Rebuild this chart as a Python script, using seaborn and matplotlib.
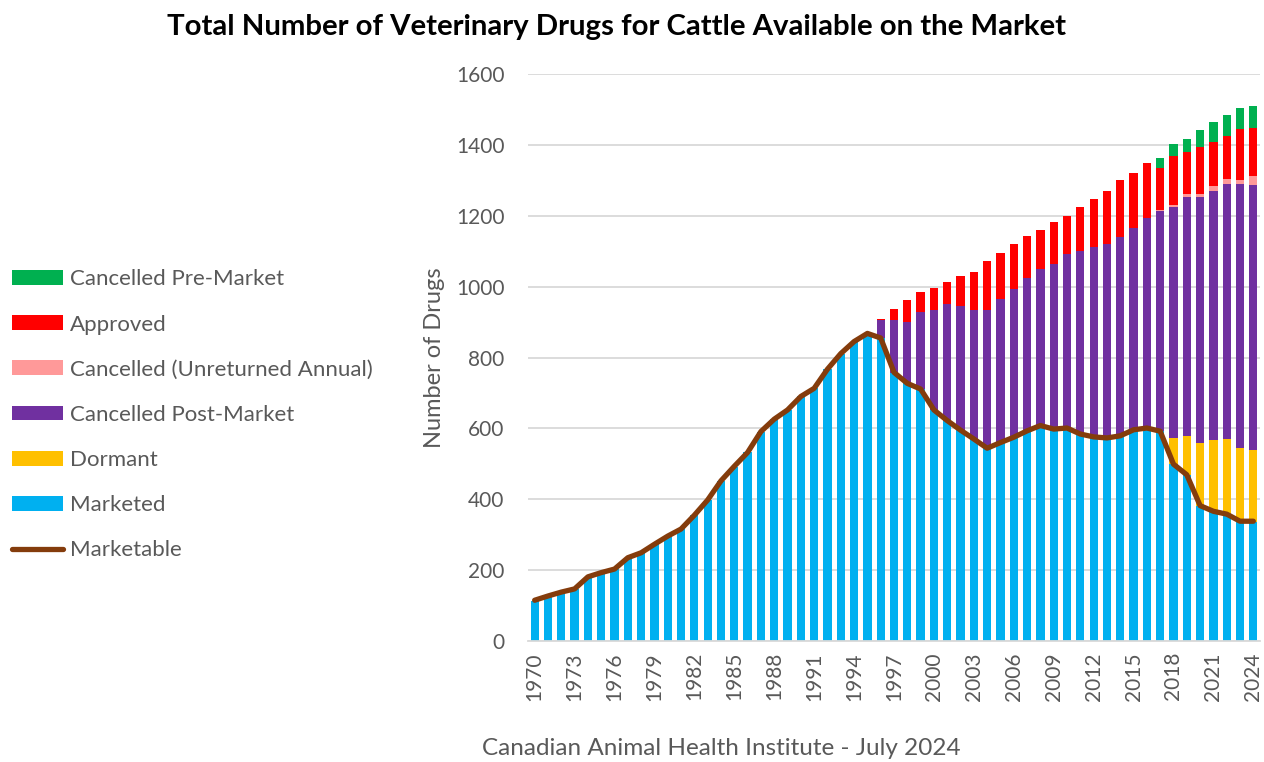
import numpy as np
import pandas as pd
import matplotlib
matplotlib.use("Agg")
import matplotlib.pyplot as plt
import seaborn as sns
from matplotlib.patches import Patch
from matplotlib.lines import Line2D

years = list(range(1970, 2025))

marketed = [113, 127, 138, 146, 181, 193, 202, 235, 249, 273, 296, 315, 355, 397, 452,
            492, 532, 591, 626, 652, 690, 713, 767, 811, 845, 868, 854, 757, 727, 711,
            652, 622, 595, 570, 544, 560, 575, 593, 608, 598, 601, 584, 576, 573, 579,
            596, 601, 592, 499, 469, 382, 366, 358, 337, 337]
dormant = [0] * 48 + [74, 110, 178, 202, 212, 207, 203]
post_market = [0] * 26 + [51, 150, 173, 218, 281, 330, 350, 365, 389, 404, 417, 431, 441,
                          467, 492, 516, 536, 548, 561, 570, 593, 621, 651, 675, 693, 701,
                          719, 745, 746]
unreturned = [0] * 47 + [2, 7, 7, 9, 15, 15, 13, 25]
approved = [0] * 26 + [5, 31, 63, 57, 64, 61, 84, 106, 138, 132, 129, 118, 112, 117, 107,
                       126, 136, 150, 160, 154, 154, 120, 137, 120, 131, 123, 120, 142, 138]
pre_market = [0] * 47 + [28, 35, 36, 49, 58, 59, 60, 62]
marketable = [115, 127, 138, 147, 181, 193, 203, 235, 249, 273, 296, 316, 355, 398, 452,
              493, 532, 591, 626, 652, 690, 713, 767, 811, 845, 868, 855, 758, 727, 711,
              652, 622, 595, 570, 544, 560, 575, 593, 608, 598, 601, 584, 576, 573, 579,
              596, 601, 592, 499, 469, 382, 366, 358, 338, 338]

series = [
    ("Marketed", marketed, "#00B0F0"),
    ("Dormant", dormant, "#FFC000"),
    ("Cancelled Post-Market", post_market, "#7030A0"),
    ("Cancelled (Unreturned Annual)", unreturned, "#FF9999"),
    ("Approved", approved, "#FF0000"),
    ("Cancelled Pre-Market", pre_market, "#00B050"),
]
line_color = "#843C0C"
text_color = "#595959"

sns.set_theme(style="white")
plt.rcParams["font.family"] = ["Lato", "DejaVu Sans"]

fig = plt.figure(figsize=(12.64, 7.62), dpi=100)
ax = fig.add_axes([528 / 1264, 1 - 641 / 762, 732 / 1264, 567 / 762])

df = pd.DataFrame({"year": [str(y) for y in years]})
cum = np.zeros(len(years))
cums = []
for name, vals, col in series:
    cum = cum + np.array(vals, dtype=float)
    cums.append((name, cum.copy(), col))

for name, c, col in reversed(cums):
    d = df.copy()
    d["v"] = c
    sns.barplot(data=d, x="year", y="v", color=col, saturation=1, width=0.62,
                linewidth=0, ax=ax, errorbar=None)

dl = pd.DataFrame({"pos": np.arange(len(years)), "v": marketable})
sns.lineplot(data=dl, x="pos", y="v", color=line_color, linewidth=3.8, ax=ax,
             solid_capstyle="round", solid_joinstyle="round")

ax.set_xlim(-0.5, len(years) - 0.5)
ax.set_ylim(0, 1600)
ax.set_yticks(range(0, 1601, 200))
ax.yaxis.grid(True, color="#D9D9D9", linewidth=1.3)
ax.set_axisbelow(True)
for s in ["top", "right", "left"]:
    ax.spines[s].set_visible(False)
ax.spines["bottom"].set_color("#D9D9D9")
ax.spines["bottom"].set_linewidth(1.3)

tick_pos = list(range(0, len(years), 3))
ax.set_xticks(tick_pos)
ax.set_xticklabels([str(years[i]) for i in tick_pos], rotation=90)
ax.tick_params(axis="both", length=0, labelsize=15, colors=text_color)
ax.tick_params(axis="y", pad=17)
ax.tick_params(axis="x", pad=8)
ax.set_xlabel("")
ax.set_ylabel("Number of Drugs", fontsize=17, color=text_color, labelpad=8)

fig.text(0.488, 0.964, "Total Number of Veterinary Drugs for Cattle Available on the Market",
         ha="center", va="center", fontsize=21.2, fontweight="bold", color="black")
fig.text(0.571, 0.004, "Canadian Animal Health Institute - July 2024",
         ha="center", va="bottom", fontsize=17.5, color=text_color)

handles = [Patch(facecolor=col, edgecolor="none", label=name)
           for name, _, col in reversed(series)]
handles.append(Line2D([0], [0], color=line_color, linewidth=3.8,
                      solid_capstyle="round", label="Marketable"))
leg = fig.legend(handles=handles, loc="upper left", bbox_to_anchor=(0.0025, 0.658),
                 frameon=False, fontsize=16, handlelength=2.3, handleheight=0.65,
                 handletextpad=0.3, labelspacing=1.13, borderaxespad=0)
for t in leg.get_texts():
    t.set_color(text_color)

fig.savefig("out.png", dpi=100)
